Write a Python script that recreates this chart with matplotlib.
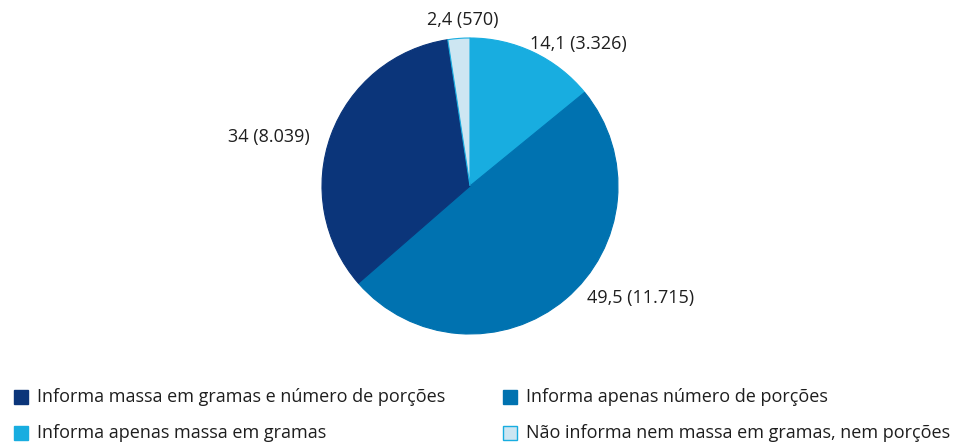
import matplotlib.pyplot as plt
from matplotlib.patches import Rectangle

# dados (%, número de produtos)
categorias = [
    "Informa apenas massa em gramas",
    "Informa apenas número de porções",
    "Informa massa em gramas e número de porções",
    "Não informa nem massa em gramas, nem porções",
]
percentuais = [14.1, 49.5, 34.0, 2.4]
rotulos = ["14,1 (3.326)", "49,5 (11.715)", "34 (8.039)", "2,4 (570)"]
cores = ["#18ade0", "#0072b0", "#0b357a", "#cde6f2"]
bordas = ["#18ade0", "#0072b0", "#0b357a", "#18ade0"]

# posição dos rótulos (em unidades do raio)
pos_rotulos = [(0.73, 0.96), (1.15, -0.76), (-1.36, 0.33), (-0.05, 1.12)]

# ordem da legenda
ordem_legenda = [2, 1, 0, 3]

plt.rcParams['font.family'] = ['Open Sans', 'DejaVu Sans']

W, H = 970, 444
fig = plt.figure(figsize=(W/100, H/100), dpi=100)

cx, cy, r = 470, 186, 148
ax = fig.add_axes([(cx-r)/W, (H-cy-r)/H, 2*r/W, 2*r/H])
wedges, _ = ax.pie(percentuais, colors=cores, startangle=90, counterclock=False,
                   radius=1, wedgeprops=dict(linewidth=0.8))
for w, b in zip(wedges, bordas):
    w.set_edgecolor(b)
ax.set_xlim(-1, 1)
ax.set_ylim(-1, 1)
ax.set_aspect('equal')
ax.axis('off')

for txt, (x, y) in zip(rotulos, pos_rotulos):
    ax.text(x, y, txt, ha="center", va="center", fontsize=13,
            color="#1e1e1e", clip_on=False)

# legenda manual
col_x = [14, 503]
lin_y = [397, 433]
for k, i in enumerate(ordem_legenda):
    x = col_x[k % 2]
    y = lin_y[k // 2]
    fig.patches.append(Rectangle((x/W, (H-y-7)/H), 14/W, 14/H,
                                 transform=fig.transFigure,
                                 facecolor=cores[i], edgecolor=bordas[i],
                                 linewidth=1))
    fig.text((x+23)/W, (H-y)/H, categorias[i], ha="left", va="center",
             fontsize=13, color="#1e1e1e")

fig.savefig("out.png", dpi=100)
